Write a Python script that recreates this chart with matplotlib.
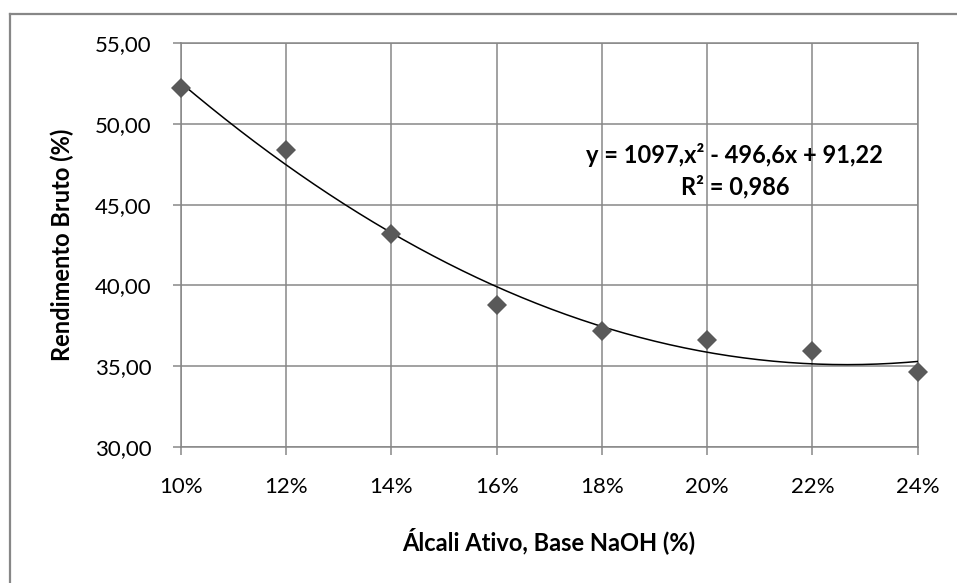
import matplotlib
matplotlib.use("Agg")
import matplotlib.pyplot as plt
from matplotlib.lines import Line2D
from matplotlib.ticker import FuncFormatter
import numpy as np

# dados
alcali = [0.10, 0.12, 0.14, 0.16, 0.18, 0.20, 0.22, 0.24]
rendimento = [52.25, 48.39, 43.17, 38.77, 37.19, 36.60, 35.90, 34.62]
eq_text = "y = 1097,x² - 496,6x + 91,22"
r2_text = "R² = 0,986"
x_title = "Álcali Ativo, Base NaOH (%)"
y_title = "Rendimento Bruto (%)"

plt.rcParams['font.family'] = ['Lato', 'DejaVu Sans']
grey = "#878787"

fig = plt.figure(figsize=(9.57, 5.83), dpi=100)
ax = fig.add_axes([181/957, 1-446.7/583, (917.7-181)/957, (446.7-43.3)/583])

# linha de tendência polinomial (2a ordem)
coef = np.polyfit(alcali, rendimento, 2)
xs = np.linspace(min(alcali), max(alcali), 200)
ax.plot(xs, np.polyval(coef, xs), color="black", lw=1.1, zorder=3)

ax.plot(alcali, rendimento, linestyle="none", marker="D", markersize=10,
        color="#595959", markeredgewidth=0, zorder=4, clip_on=False)

ax.set_xlim(0.10, 0.24)
ax.set_ylim(30, 55)
ax.set_xticks(alcali)
ax.set_yticks(np.arange(30, 56, 5))
ax.xaxis.set_major_formatter(FuncFormatter(lambda v, p: f"{v*100:.0f}%"))
ax.yaxis.set_major_formatter(FuncFormatter(lambda v, p: f"{v:.2f}".replace(".", ",")))

ax.grid(True, color=grey, lw=1.1, zorder=0)
for s in ax.spines.values():
    s.set_color(grey)
    s.set_linewidth(1.1)
ax.tick_params(axis="both", direction="out", length=6, width=1.1, color=grey,
               labelsize=16, labelcolor="black")
ax.tick_params(axis="y", pad=15)
ax.tick_params(axis="x", pad=16)

ax.text(0.752, 0.723, eq_text, transform=ax.transAxes, ha="center", va="center",
        fontsize=17, fontweight="bold", zorder=5)
ax.text(0.752, 0.644, r2_text, transform=ax.transAxes, ha="center", va="center",
        fontsize=17, fontweight="bold", zorder=5)

fig.text(549/957, 1-541/583, x_title, ha="center", va="center",
         fontsize=17, fontweight="bold")
fig.text(62/957, 1-245/583, y_title, ha="center", va="center", rotation=90,
         fontsize=17, fontweight="bold")

# moldura do gráfico (cortada na imagem original)
fig.add_artist(Line2D([10/957, 10/957], [0, 1-14/583], color=grey, lw=1.6))
fig.add_artist(Line2D([10/957, 1], [1-14/583, 1-14/583], color=grey, lw=1.6))

fig.savefig("out.png", dpi=100)
